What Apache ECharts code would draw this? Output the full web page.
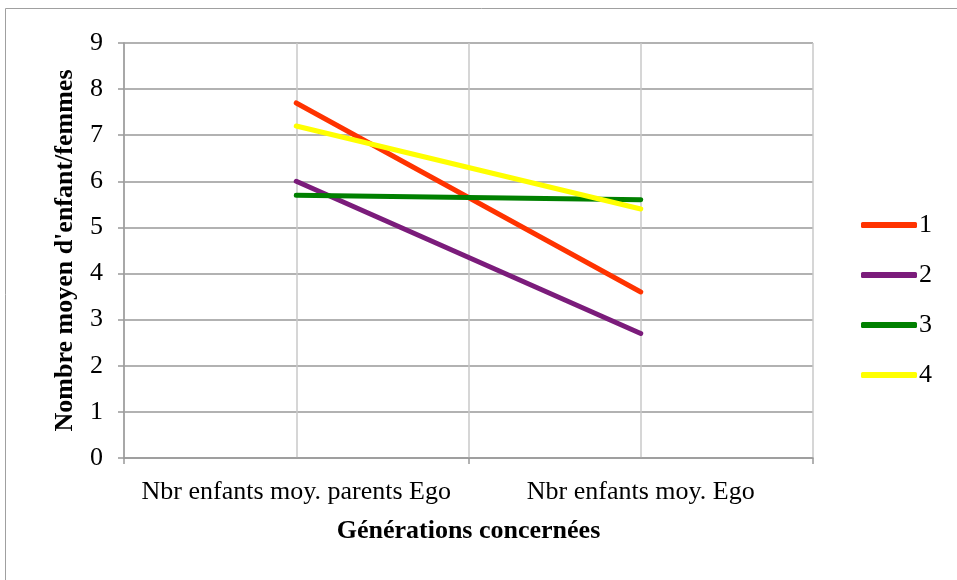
<!DOCTYPE html>
<html>
<head>
<meta charset="utf-8">
<script src="https://cdn.jsdelivr.net/npm/echarts@6/dist/echarts.min.js"></script>
<style>html,body{margin:0;padding:0;background:#fff;}#c{width:957px;height:580px;}</style>
</head>
<body>
<div id="c"></div>
<script>
var categories = ['Nbr enfants moy. parents Ego', 'Nbr enfants moy. Ego'];
var seriesNames = ['1', '2', '3', '4'];
var s1 = [7.7, 3.6];
var s2 = [6.0, 2.7];
var s3 = [5.7, 5.6];
var s4 = [7.2, 5.4];
var yTicks = [0, 9, 1];
var colors = ['#FF3300', '#7B1C7B', '#008000', '#FFFF00'];

var chart = echarts.init(document.getElementById('c'));
var font = '"Liberation Serif", "Times New Roman", serif';
var values = [s1, s2, s3, s4];
chart.setOption({
  animation: false,
  textStyle: {fontFamily: font},
  graphic: [{type: 'rect', shape: {x: 5.5, y: 8.5, width: 1000, height: 1000}, style: {fill: null, stroke: '#a0a0a0', lineWidth: 1}, z: -1}],
  grid: {left: 124, top: 43, width: 689, height: 415},
  legend: {
    orient: 'vertical', left: 856, top: 207, itemWidth: 56, itemHeight: 6, itemGap: 24,
    icon: 'roundRect', textStyle: {fontFamily: font, fontSize: 26, color: '#000', padding: [0,0,0,-3]},
    data: seriesNames
  },
  xAxis: [{
    type: 'category', data: categories, boundaryGap: true,
    axisLine: {lineStyle: {color: '#999', width: 1.5}},
    axisTick: {show: true, length: 6, lineStyle: {color: '#999', width: 1.5}},
    axisLabel: {fontFamily: font, fontSize: 26, color: '#000', margin: 21, interval: 0, hideOverlap: false},
    splitLine: {show: false},
    name: 'Générations concernées', nameLocation: 'middle', nameGap: 60,
    nameTextStyle: {fontFamily: font, fontSize: 26, fontWeight: 'bold', color: '#000'}
  }, {
    type: 'value', min: 0, max: 4, interval: 1, position: 'bottom',
    axisLine: {show: false}, axisTick: {show: false}, axisLabel: {show: false},
    splitLine: {show: true, lineStyle: {color: '#c8c8c8', width: 1.5}}
  }],
  yAxis: {
    type: 'value', min: yTicks[0], max: yTicks[1], interval: yTicks[2],
    axisLine: {show: true, lineStyle: {color: '#999', width: 1.5}},
    axisTick: {show: true, length: 6, lineStyle: {color: '#999', width: 1.5}},
    axisLabel: {fontFamily: font, fontSize: 26, color: '#000', margin: 21},
    splitLine: {lineStyle: {color: '#999', width: 1.5}},
    name: "Nombre moyen d'enfant/femmes", nameLocation: 'middle', nameGap: 46,
    nameTextStyle: {fontFamily: font, fontSize: 26, fontWeight: 'bold', color: '#000'}
  },
  series: seriesNames.map(function (n, i) {
    return {
      name: n, type: 'line', data: values[i], xAxisIndex: 0,
      symbol: 'none', color: colors[i],
      lineStyle: {width: 5, color: colors[i], cap: 'round'}
    };
  })
});
</script>
</body>
</html>
